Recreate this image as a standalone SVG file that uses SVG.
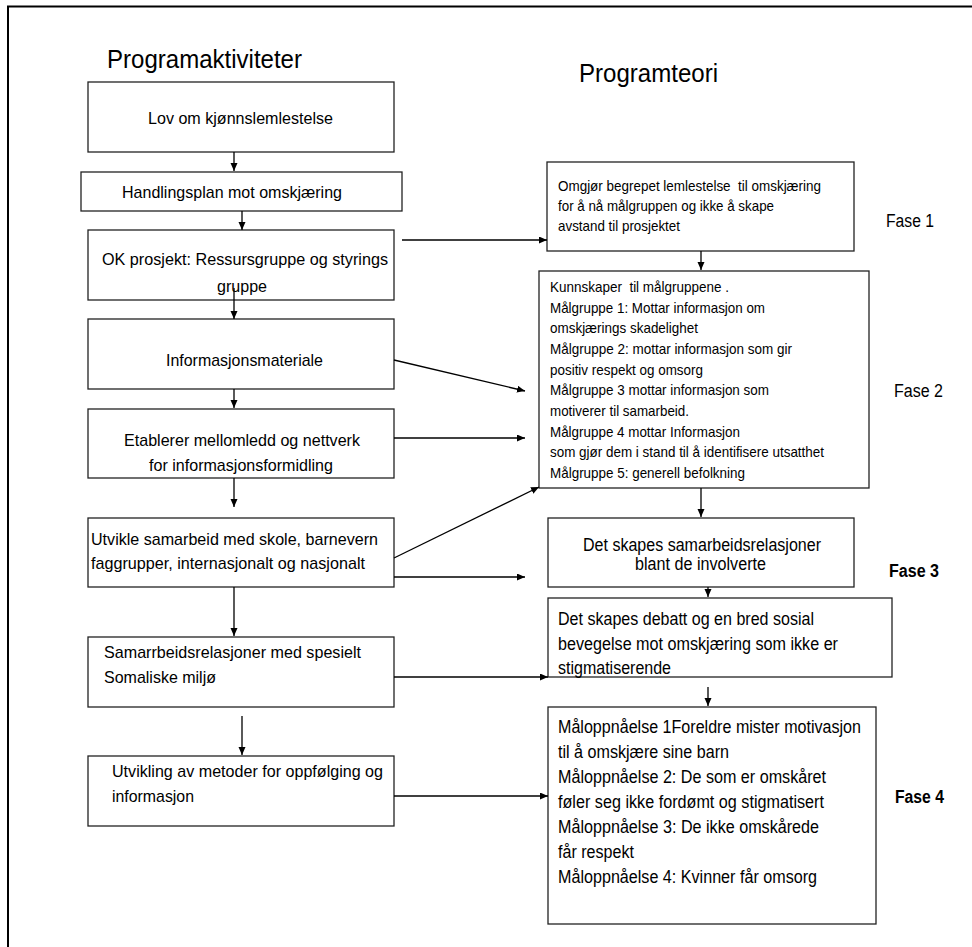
<svg xmlns="http://www.w3.org/2000/svg" width="972" height="947" viewBox="0 0 972 947">
<style>
.box{fill:#fff;stroke:#222;stroke-width:1.3}
.t{font-family:"Liberation Sans",Arial,sans-serif;font-size:17px;fill:#000}
.r{font-family:"Liberation Sans",Arial,sans-serif;font-size:17.5px;fill:#000}
.s{font-family:"Liberation Sans",Arial,sans-serif;font-size:15px;fill:#000}
.h{font-family:"Liberation Sans",Arial,sans-serif;font-size:25px;fill:#000}
.f{font-family:"Liberation Sans",Arial,sans-serif;font-size:18px;fill:#000}
.b{font-family:"Liberation Sans",Arial,sans-serif;font-size:18px;font-weight:bold;fill:#000}
.c{stroke:#000;stroke-width:1.3;fill:none;marker-end:url(#ah)}
</style>
<defs>
<marker id="ah" markerUnits="userSpaceOnUse" markerWidth="9" markerHeight="8" refX="8" refY="3.5" orient="auto">
<path d="M0,0 L8,3.5 L0,7 z" fill="#000"/>
</marker>
</defs>
<rect width="972" height="947" fill="#fff"/>
<path d="M8,947 V6.5 H972" stroke="#000" stroke-width="2" fill="none"/>

<g id="titles">
<text class="h" x="107" y="68" textLength="195" lengthAdjust="spacingAndGlyphs">Programaktiviteter</text>
<text class="h" x="579" y="82" textLength="139" lengthAdjust="spacingAndGlyphs">Programteori</text>
</g>

<g id="phases">
<text class="f" x="886" y="227" textLength="48" lengthAdjust="spacingAndGlyphs">Fase 1</text>
<text class="f" x="894" y="397" textLength="49" lengthAdjust="spacingAndGlyphs">Fase 2</text>
<text class="b" x="889" y="577" textLength="50" lengthAdjust="spacingAndGlyphs">Fase 3</text>
<text class="b" x="895" y="803" textLength="49" lengthAdjust="spacingAndGlyphs">Fase 4</text>
</g>

<g id="box1">
<rect class="box" x="88" y="82" width="306" height="70"/>
<text class="t" x="148" y="124" textLength="185" lengthAdjust="spacingAndGlyphs">Lov om kjønnslemlestelse</text>
</g>
<g id="box2">
<rect class="box" x="81" y="172" width="321" height="39"/>
<text class="t" x="122" y="198" textLength="220" lengthAdjust="spacingAndGlyphs">Handlingsplan mot omskjæring</text>
</g>
<g id="box3">
<rect class="box" x="88" y="230" width="306" height="70"/>
<text class="t" x="102" y="265" textLength="286" lengthAdjust="spacingAndGlyphs">OK prosjekt: Ressursgruppe og styrings</text>
<text class="t" x="217" y="292" textLength="50" lengthAdjust="spacingAndGlyphs">gruppe</text>
</g>
<g id="box4">
<rect class="box" x="88" y="319" width="306" height="70"/>
<text class="t" x="166" y="366" textLength="157" lengthAdjust="spacingAndGlyphs">Informasjonsmateriale</text>
</g>
<g id="box5">
<rect class="box" x="88" y="409" width="306" height="69"/>
<text class="t" x="124" y="446" textLength="236" lengthAdjust="spacingAndGlyphs">Etablerer mellomledd og nettverk</text>
<text class="t" x="149" y="471" textLength="184" lengthAdjust="spacingAndGlyphs">for informasjonsformidling</text>
</g>
<g id="box6">
<rect class="box" x="88" y="518" width="306" height="69"/>
<text class="t" x="91" y="545" textLength="287" lengthAdjust="spacingAndGlyphs">Utvikle samarbeid med skole, barnevern</text>
<text class="t" x="91" y="569" textLength="274" lengthAdjust="spacingAndGlyphs">faggrupper, internasjonalt og nasjonalt</text>
</g>
<g id="box7">
<rect class="box" x="88" y="637" width="306" height="70"/>
<text class="t" x="104" y="658" textLength="257" lengthAdjust="spacingAndGlyphs">Samarrbeidsrelasjoner med spesielt</text>
<text class="t" x="104" y="683" textLength="112" lengthAdjust="spacingAndGlyphs">Somaliske miljø</text>
</g>
<g id="box8">
<rect class="box" x="88" y="756" width="306" height="70"/>
<text class="t" x="112" y="777" textLength="271" lengthAdjust="spacingAndGlyphs">Utvikling av metoder for oppfølging og</text>
<text class="t" x="112" y="802" textLength="82" lengthAdjust="spacingAndGlyphs">informasjon</text>
</g>

<g id="r1">
<rect class="box" x="547" y="162" width="307" height="89"/>
<text class="s" x="558" y="191" textLength="263" lengthAdjust="spacingAndGlyphs" xml:space="preserve">Omgjør begrepet lemlestelse  til omskjæring</text>
<text class="s" x="558" y="211" textLength="216" lengthAdjust="spacingAndGlyphs">for å nå målgruppen og ikke å skape</text>
<text class="s" x="558" y="231" textLength="122" lengthAdjust="spacingAndGlyphs">avstand til prosjektet</text>
</g>
<g id="r2">
<rect class="box" x="539" y="271" width="330" height="217"/>
<text class="s" x="550" y="292" textLength="179" lengthAdjust="spacingAndGlyphs" xml:space="preserve">Kunnskaper  til målgruppene .</text>
<text class="s" x="550" y="312.7" textLength="215" lengthAdjust="spacingAndGlyphs">Målgruppe 1: Mottar informasjon om</text>
<text class="s" x="550" y="333.3" textLength="148" lengthAdjust="spacingAndGlyphs">omskjærings skadelighet</text>
<text class="s" x="550" y="354" textLength="242" lengthAdjust="spacingAndGlyphs">Målgruppe 2: mottar informasjon som gir</text>
<text class="s" x="550" y="374.7" textLength="153" lengthAdjust="spacingAndGlyphs">positiv respekt og omsorg</text>
<text class="s" x="550" y="395.3" textLength="219" lengthAdjust="spacingAndGlyphs">Målgruppe 3 mottar informasjon som</text>
<text class="s" x="550" y="416" textLength="139" lengthAdjust="spacingAndGlyphs">motiverer til samarbeid.</text>
<text class="s" x="550" y="436.7" textLength="190" lengthAdjust="spacingAndGlyphs">Målgruppe 4 mottar Informasjon</text>
<text class="s" x="550" y="457.3" textLength="274" lengthAdjust="spacingAndGlyphs">som gjør dem i stand til å identifisere utsatthet</text>
<text class="s" x="550" y="478" textLength="195" lengthAdjust="spacingAndGlyphs">Målgruppe 5: generell befolkning</text>
</g>
<g id="r3">
<rect class="box" x="548" y="518" width="306" height="69"/>
<text class="r" x="583" y="551" textLength="238" lengthAdjust="spacingAndGlyphs">Det skapes samarbeidsrelasjoner</text>
<text class="r" x="635" y="570" textLength="131" lengthAdjust="spacingAndGlyphs">blant de involverte</text>
</g>
<g id="r4">
<rect class="box" x="548" y="598" width="344" height="79"/>
<text class="r" x="558" y="625" textLength="256" lengthAdjust="spacingAndGlyphs">Det skapes debatt og en bred sosial</text>
<text class="r" x="558" y="650" textLength="280" lengthAdjust="spacingAndGlyphs">bevegelse mot omskjæring som ikke er</text>
<text class="r" x="558" y="674" textLength="113" lengthAdjust="spacingAndGlyphs">stigmatiserende</text>
</g>
<g id="r5">
<rect class="box" x="548" y="707" width="328" height="217"/>
<text class="r" x="558" y="733" textLength="303" lengthAdjust="spacingAndGlyphs">Måloppnåelse 1Foreldre mister motivasjon</text>
<text class="r" x="558" y="758" textLength="171" lengthAdjust="spacingAndGlyphs">til å omskjære sine barn</text>
<text class="r" x="558" y="783" textLength="268" lengthAdjust="spacingAndGlyphs">Måloppnåelse 2: De som er omskåret</text>
<text class="r" x="558" y="808" textLength="266" lengthAdjust="spacingAndGlyphs">føler seg ikke fordømt og stigmatisert</text>
<text class="r" x="558" y="833" textLength="261" lengthAdjust="spacingAndGlyphs">Måloppnåelse 3: De ikke omskårede</text>
<text class="r" x="558" y="858" textLength="76" lengthAdjust="spacingAndGlyphs">får respekt</text>
<text class="r" x="558" y="883" textLength="259" lengthAdjust="spacingAndGlyphs">Måloppnåelse 4: Kvinner får omsorg</text>
</g>

<g id="connectors">
<line class="c" x1="234" y1="152" x2="234" y2="171"/>
<line class="c" x1="242" y1="211" x2="242" y2="230"/>
<line class="c" x1="234" y1="288" x2="234" y2="319"/>
<line class="c" x1="234" y1="389" x2="234" y2="408"/>
<line class="c" x1="234" y1="478" x2="234" y2="507"/>
<line class="c" x1="234" y1="587" x2="234" y2="636"/>
<line class="c" x1="242" y1="716" x2="242" y2="755"/>
<line class="c" x1="701" y1="251" x2="701" y2="270"/>
<line class="c" x1="701" y1="488" x2="701" y2="517"/>
<line class="c" x1="708" y1="587" x2="708" y2="597"/>
<line class="c" x1="708" y1="687" x2="708" y2="706"/>
<line class="c" x1="402" y1="240" x2="547" y2="240"/>
<line class="c" x1="394" y1="360" x2="525" y2="391"/>
<line class="c" x1="394" y1="438" x2="525" y2="438"/>
<line class="c" x1="394" y1="558" x2="539" y2="487"/>
<line class="c" x1="394" y1="577" x2="525" y2="577"/>
<line class="c" x1="394" y1="677" x2="548" y2="677"/>
<line class="c" x1="394" y1="796" x2="548" y2="796"/>
</g>
</svg>
